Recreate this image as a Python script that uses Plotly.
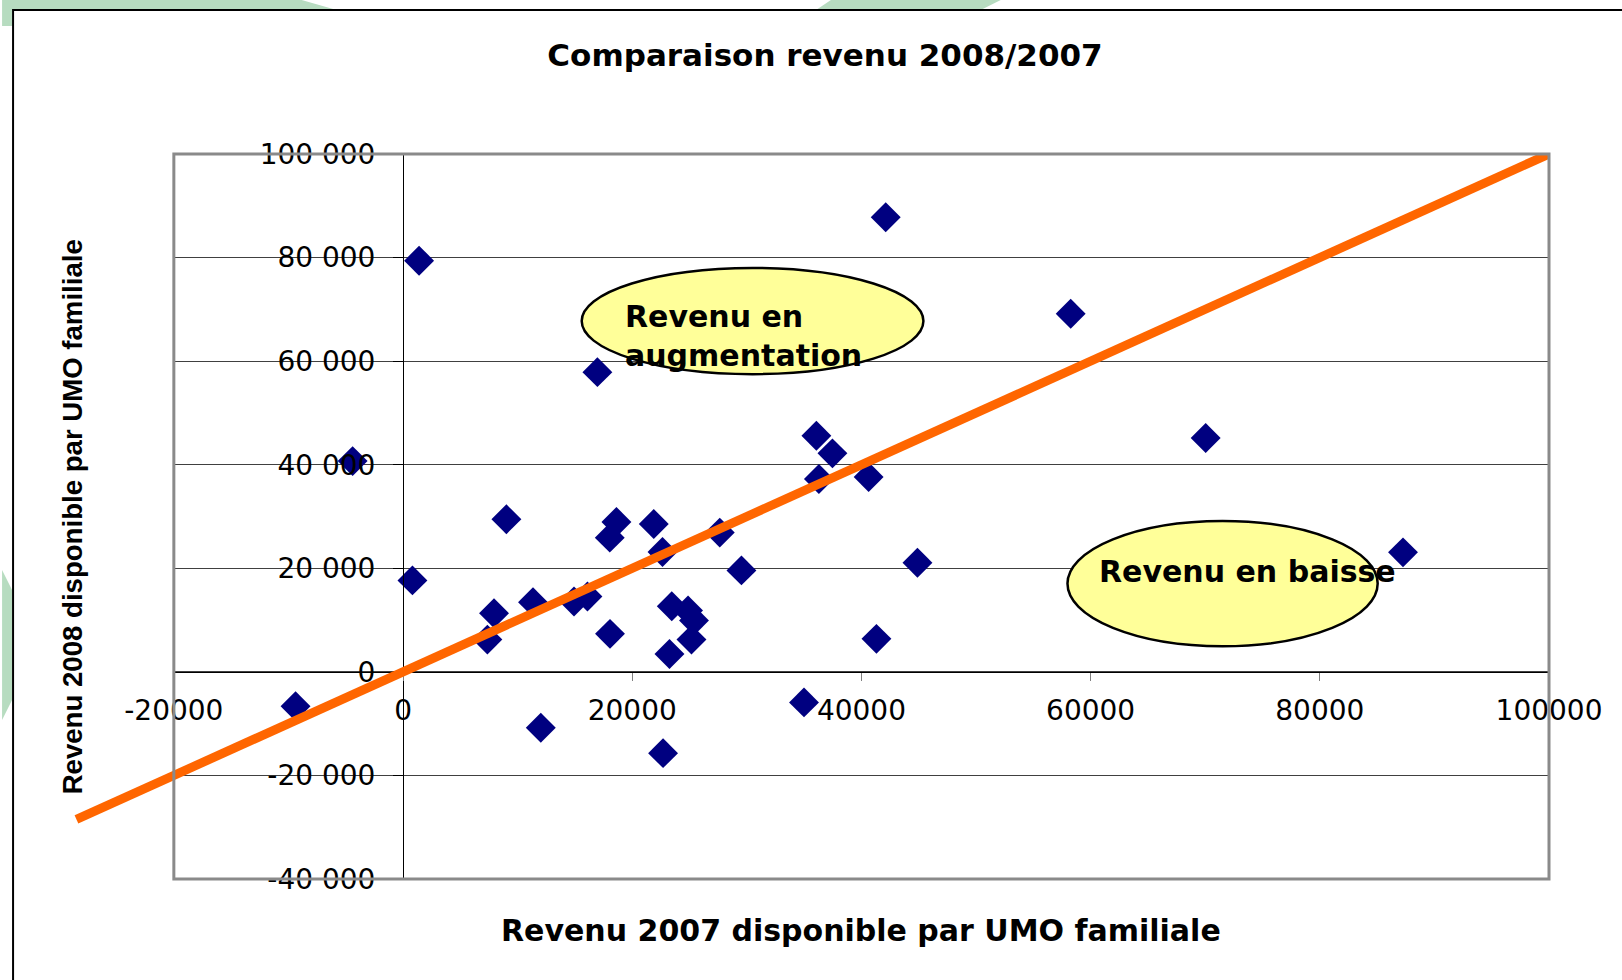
import plotly.graph_objects as go

# revenu disponible par UMO familiale
revenu_2007 = [1400, 16960, -4400, 9020, 820, 18620, 18040, 21880, 22640, 7940, 7360,
               11340, 14920, 16090, 18060, 23450, 24870, 25390, 25170, 23250, 12020,
               22690, -9380, 42120, 58260, 36070, 37470, 36290, 40630, 27640, 29530,
               44890, 41310, 34990, 70040, 87260]
revenu_2008 = [79400, 57870, 40700, 29470, 17660, 28950, 25920, 28560, 23140, 11330, 6230,
               13460, 13590, 14560, 7340, 12680, 11850, 9910, 6230, 3460, -10800,
               -15700, -6640, 87800, 69160, 45600, 42190, 37230, 37620, 26890, 19590,
               21080, 6370, -5900, 45150, 23080]

# y = x reference line
bissectrice = [-28500, 100000]

x_ticks = [-20000, 0, 20000, 40000, 60000, 80000, 100000]
x_ticktext = ["-20000", "0", "20000", "40000", "60000", "80000", "100000"]
y_ticks = [-40000, -20000, 0, 20000, 40000, 60000, 80000, 100000]
y_ticktext = ["-40 000", "-20 000", "0", "20 000", "40 000", "60 000", "80 000", "100 000"]

X_RANGE = [-20000, 100000]
Y_RANGE = [-40000, 100000]

W, H = 1622, 980
ML, MR, MT, MB = 60, 73, 154, 101
PW = W - ML - MR
PH = H - MT - MB
x_dom0 = (172 - ML) / PW
# wider invisible axis so the orange line can run past the plot frame
x2_min = X_RANGE[0] - x_dom0 / (1 - x_dom0) * (X_RANGE[1] - X_RANGE[0])


def px_x(px):
    return (px - ML) / PW


def px_y(py):
    return (H - MB - py) / PH


GREEN = "#b7dcc0"

fig = go.Figure()

fig.add_trace(go.Scatter(
    x=revenu_2007, y=revenu_2008, mode="markers",
    marker=dict(symbol="diamond", size=23, color="#000080", line=dict(width=0)),
    showlegend=False,
))

fig.add_trace(go.Scatter(
    x=bissectrice, y=bissectrice, mode="lines",
    line=dict(color="#ff6600", width=9),
    xaxis="x2", yaxis="y2", showlegend=False,
))

tick_font = dict(family="DejaVu Sans", size=28, color="black")

fig.update_layout(
    width=W, height=H,
    margin=dict(l=ML, r=MR, t=MT, b=MB),
    paper_bgcolor="white",
    plot_bgcolor="rgba(0,0,0,0)",
    title=dict(
        text="<b>Comparaison revenu 2008/2007</b>",
        font=dict(family="DejaVu Sans", size=31, color="black"),
        xref="container", yref="container",
        x=825 / W, y=1 - 55 / H, xanchor="center", yanchor="middle",
    ),
    xaxis=dict(
        domain=[x_dom0, 1], range=X_RANGE,
        tickvals=x_ticks, ticktext=x_ticktext, tickfont=tick_font,
        anchor="free", position=(0 - Y_RANGE[0]) / (Y_RANGE[1] - Y_RANGE[0]),
        showgrid=False, zeroline=False,
        showline=True, linecolor="black", linewidth=1,
        ticks="outside", ticklen=8, tickcolor="#808080", tickwidth=1,
        ticklabelstandoff=6,
    ),
    yaxis=dict(
        domain=[0, 1], range=Y_RANGE,
        tickvals=y_ticks, ticktext=y_ticktext, tickfont=tick_font,
        anchor="free",
        position=x_dom0 + (1 - x_dom0) * (0 - X_RANGE[0]) / (X_RANGE[1] - X_RANGE[0]),
        showgrid=True, gridcolor="#404040", gridwidth=1, zeroline=False,
        showline=True, linecolor="black", linewidth=1,
        ticks="outside", ticklen=10, tickcolor="black", tickwidth=1,
        ticklabelstandoff=12,
    ),
    xaxis2=dict(domain=[0, 1], range=[x2_min, X_RANGE[1]], visible=False, anchor="y2"),
    yaxis2=dict(domain=[0, 1], range=Y_RANGE, visible=False, anchor="x2"),
)

# plot frame
fig.add_shape(type="rect", xref="x domain", yref="y domain", x0=0, x1=1, y0=0, y1=1,
              line=dict(color="#8a8a8a", width=3), fillcolor="rgba(0,0,0,0)", layer="above")

# slide background decorations
fig.add_shape(type="path", xref="paper", yref="paper",
              path=f"M {px_x(0)} {px_y(0)} L {px_x(300)} {px_y(0)} L {px_x(335)} {px_y(10)} "
                   f"L {px_x(10)} {px_y(10)} L {px_x(10)} {px_y(26)} L {px_x(0)} {px_y(26)} Z",
              fillcolor=GREEN, line=dict(width=0), layer="below")
fig.add_shape(type="path", xref="paper", yref="paper",
              path=f"M {px_x(830)} {px_y(0)} L {px_x(1000)} {px_y(0)} L {px_x(980)} {px_y(10)} "
                   f"L {px_x(815)} {px_y(10)} Z",
              fillcolor=GREEN, line=dict(width=0), layer="below")
fig.add_shape(type="path", xref="paper", yref="paper",
              path=f"M {px_x(0)} {px_y(570)} L {px_x(10)} {px_y(590)} L {px_x(10)} {px_y(700)} "
                   f"L {px_x(0)} {px_y(720)} Z",
              fillcolor=GREEN, line=dict(width=0), layer="below")
fig.add_shape(type="rect", xref="paper", yref="paper",
              x0=px_x(11), x1=px_x(W + 10), y0=px_y(10), y1=px_y(H + 10),
              line=dict(color="black", width=2), fillcolor="rgba(0,0,0,0)", layer="below")

# labelled ellipses
fig.add_shape(type="circle", xref="x", yref="y", x0=15590, x1=45410, y0=57480, y1=78000,
              fillcolor="#ffff99", line=dict(color="black", width=2.5), layer="above")
fig.add_shape(type="circle", xref="x", yref="y", x0=57980, x1=85050, y0=4940, y1=29140,
              fillcolor="#ffff99", line=dict(color="black", width=2.5), layer="above")

label_font = dict(family="DejaVu Sans", size=30, color="black")
fig.add_annotation(x=19170, y=64800, xref="x", yref="y", xanchor="left", yanchor="middle",
                   align="left", text="<b>Revenu en<br>augmentation</b>",
                   showarrow=False, font=label_font)
fig.add_annotation(x=73700, y=19400, xref="x", yref="y", xanchor="center", yanchor="middle",
                   text="<b>Revenu en baisse</b>", showarrow=False, font=label_font)

# axis titles
fig.add_annotation(x=0.5, y=0, xref="x domain", yref="y domain", xanchor="center",
                   yanchor="top", yshift=-32,
                   text="<b>Revenu 2007 disponible par UMO familiale</b>", showarrow=False,
                   font=dict(family="DejaVu Sans", size=30, color="black"))
fig.add_annotation(x=0, y=0.5, xref="x domain", yref="y domain", xanchor="center",
                   yanchor="middle", xshift=-101, textangle=-90,
                   text="<b>Revenu 2008 disponible par UMO familiale</b>", showarrow=False,
                   font=dict(family="Liberation Sans", size=27.6, color="black"))

fig.write_html("out.html", config={"displayModeBar": False},
               post_script="document.body.style.margin = '0';")
